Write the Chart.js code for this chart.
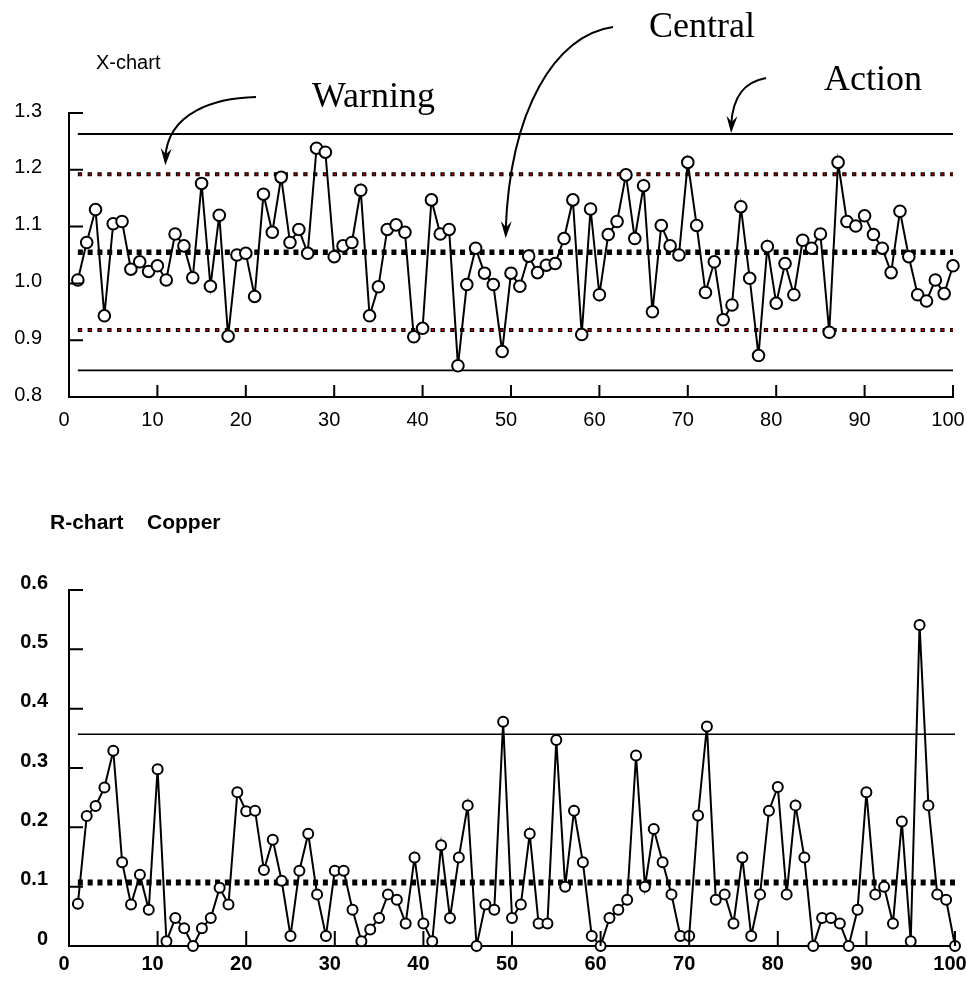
<!DOCTYPE html>
<html lang="en">
<head>
  <meta charset="UTF-8">
  <title>X-chart / R-chart Copper</title>
  <script src="https://cdn.jsdelivr.net/npm/chart.js"></script>
  <style>
    body { margin: 0; background: #fff; width: 967px; height: 981px; position: relative; overflow: hidden; }
    canvas { position: absolute; left: 0; }
    .lbl { position: absolute; white-space: nowrap; line-height: 1; color: #000; }
    .sans { font-family: "Liberation Sans", Arial, sans-serif; font-size: 20px; }
    .bold { font-weight: bold; font-size: 21px; }
    .note { font-family: "Liberation Serif", "Times New Roman", serif; font-size: 36px; }
  </style>
</head>
<body>
  <canvas id="xchart" width="967" height="450" style="top:0"></canvas>
  <canvas id="rchart" width="967" height="531" style="top:450px"></canvas>

  <div class="lbl sans" style="left:96px; top:52px;">X-chart</div>
  <div class="lbl note" style="left:312px; top:77px;">Warning</div>
  <div class="lbl note" style="left:649px; top:7px;">Central</div>
  <div class="lbl note" style="left:824px; top:60px;">Action</div>
  <div class="lbl sans bold" style="left:50px; top:511px;">R-chart</div>
  <div class="lbl sans bold" style="left:147px; top:511px;">Copper</div>

  <script>
    // sample numbers 1..100
    var samples = [];
    for (var i = 1; i <= 100; i++) samples.push(i);

    // X-chart (sample means)
    var xbarValues = [
      1.006, 1.072, 1.130, 0.943, 1.105, 1.109, 1.025, 1.038, 1.021, 1.031,
      1.006, 1.087, 1.066, 1.010, 1.176, 0.995, 1.120, 0.907, 1.050, 1.053,
      0.977, 1.157, 1.090, 1.187, 1.072, 1.095, 1.053, 1.238, 1.231, 1.047,
      1.066, 1.072, 1.164, 0.943, 0.994, 1.095, 1.103, 1.090, 0.906, 0.921,
      1.147, 1.087, 1.095, 0.855, 0.998, 1.062, 1.018, 0.998, 0.880, 1.018,
      0.995, 1.048, 1.019, 1.032, 1.035, 1.079, 1.147, 0.910, 1.131, 0.980,
      1.086, 1.109, 1.191, 1.079, 1.172, 0.950, 1.102, 1.066, 1.050, 1.213,
      1.102, 0.984, 1.038, 0.936, 0.962, 1.135, 1.009, 0.873, 1.065, 0.965,
      1.035, 0.980, 1.076, 1.062, 1.087, 0.914, 1.213, 1.109, 1.101, 1.119,
      1.086, 1.062, 1.019, 1.127, 1.047, 0.980, 0.969, 1.006, 0.982, 1.031
    ];
    var xCentral = 1.055;
    var xWarning = [0.918, 1.192];
    var xAction = [0.847, 1.263];
    var xTicksY = { min: 0.8, max: 1.3, step: 0.1 };

    // R-chart (ranges)
    var rangeValues = [
      0.071, 0.219, 0.236, 0.267, 0.329, 0.141, 0.070, 0.120, 0.061, 0.298,
      0.008, 0.047, 0.030, 0.000, 0.030, 0.047, 0.098, 0.070, 0.259, 0.227,
      0.228, 0.128, 0.179, 0.110, 0.017, 0.127, 0.189, 0.087, 0.017, 0.127,
      0.127, 0.061, 0.008, 0.028, 0.047, 0.087, 0.078, 0.038, 0.149, 0.038,
      0.008, 0.170, 0.047, 0.149, 0.237, 0.000, 0.070, 0.061, 0.378, 0.047,
      0.070, 0.189, 0.038, 0.038, 0.347, 0.100, 0.228, 0.141, 0.017, 0.000,
      0.047, 0.061, 0.078, 0.321, 0.100, 0.197, 0.141, 0.087, 0.017, 0.017,
      0.220, 0.370, 0.078, 0.087, 0.038, 0.149, 0.017, 0.087, 0.228, 0.268,
      0.087, 0.237, 0.149, 0.000, 0.047, 0.047, 0.038, 0.000, 0.061, 0.259,
      0.087, 0.100, 0.038, 0.210, 0.008, 0.541, 0.237, 0.087, 0.078, 0.000
    ];
    var rCentral = 0.107;
    var rAction = 0.357;
    var rTicksY = { min: 0, max: 0.6, step: 0.1 };

    var xTickLabels = { min: 0, max: 100, step: 10 };

    function points(values) {
      return values.map(function (v, i) { return { x: samples[i], y: v }; });
    }
    function hline(v) {
      return [{ x: samples[0], y: v }, { x: samples[samples.length - 1], y: v }];
    }
    function limitLine(v, width, dash, color, offset) {
      return {
        data: hline(v), borderColor: color || '#000', borderWidth: width,
        borderDash: dash || [], borderDashOffset: offset || 0,
        pointRadius: 0, borderCapStyle: 'butt', clip: false
      };
    }

    // ticks pointing into the plot
    var innerTicks = {
      id: 'innerTicks',
      afterDraw: function (chart, args, opts) {
        var ctx = chart.ctx, a = chart.chartArea;
        var sx = chart.scales.x, sy = chart.scales.y;
        ctx.save();
        ctx.strokeStyle = '#000';
        ctx.lineWidth = 2;
        ctx.beginPath();
        sy.ticks.forEach(function (t) {
          var py = sy.getPixelForValue(t.value);
          ctx.moveTo(a.left, py);
          ctx.lineTo(a.left + opts.ylen, py);
        });
        sx.ticks.forEach(function (t) {
          var px = sx.getPixelForValue(t.value);
          ctx.moveTo(px, a.bottom);
          ctx.lineTo(px, a.bottom - opts.xlen);
        });
        ctx.stroke();
        ctx.restore();
      }
    };

    // curved arrows pointing at the control lines
    function arrow(ctx, p0, c1, c2, tip) {
      ctx.beginPath();
      ctx.moveTo(p0[0], p0[1]);
      ctx.bezierCurveTo(c1[0], c1[1], c2[0], c2[1], tip[0], tip[1] - 8);
      ctx.stroke();
      var dx = tip[0] - c2[0], dy = tip[1] - c2[1];
      var len = Math.sqrt(dx * dx + dy * dy);
      dx /= len; dy /= len;
      var nx = -dy, ny = dx;
      var L = 17, w = 5.5, notch = 11;
      ctx.beginPath();
      ctx.moveTo(tip[0], tip[1]);
      ctx.lineTo(tip[0] - dx * L + nx * w, tip[1] - dy * L + ny * w);
      ctx.lineTo(tip[0] - dx * notch, tip[1] - dy * notch);
      ctx.lineTo(tip[0] - dx * L - nx * w, tip[1] - dy * L - ny * w);
      ctx.closePath();
      ctx.fill();
    }
    var arrows = {
      id: 'arrows',
      afterDraw: function (chart) {
        var ctx = chart.ctx, sx = chart.scales.x, sy = chart.scales.y;
        ctx.save();
        ctx.strokeStyle = '#000';
        ctx.fillStyle = '#000';
        ctx.lineWidth = 2;
        var wTip = [sx.getPixelForValue(10.9), sy.getPixelForValue(xWarning[1]) - 9];
        arrow(ctx, [256, 97], [215, 98], [168, 112], wTip);
        var cTip = [sx.getPixelForValue(49.4), sy.getPixelForValue(xCentral) - 14];
        arrow(ctx, [613, 27], [555, 35], [510, 110], cTip);
        var aTip = [sx.getPixelForValue(74.9), sy.getPixelForValue(xAction[1]) - 1];
        arrow(ctx, [766, 78], [745, 82], [733, 95], aTip);
        ctx.restore();
      }
    };

    function makeOptions(cfg) {
      return {
        responsive: false,
        animation: false,
        events: [],
        layout: { autoPadding: false, padding: { top: cfg.top, right: cfg.right, left: 0, bottom: 0 } },
        plugins: {
          legend: { display: false },
          tooltip: { enabled: false },
          innerTicks: { ylen: 14, xlen: cfg.xlen }
        },
        scales: {
          x: {
            type: 'linear', min: xTickLabels.min, max: xTickLabels.max,
            grid: { display: false, drawTicks: false },
            border: { display: true, color: '#000', width: 2 },
            afterFit: function (s) { s.height = cfg.xh; s.paddingLeft = 0; s.paddingRight = 0; },
            ticks: {
              stepSize: xTickLabels.step, color: '#000', padding: cfg.xpad, labelOffset: -5,
              maxRotation: 0, autoSkip: false,
              font: { family: '"Liberation Sans", Arial, sans-serif', size: 20, weight: cfg.weight }
            }
          },
          y: {
            min: cfg.y.min, max: cfg.y.max,
            grid: { display: false, drawTicks: false },
            border: { display: true, color: '#000', width: 2 },
            afterFit: function (s) { s.width = 69; s.paddingTop = 0; s.paddingBottom = 0; },
            ticks: {
              stepSize: cfg.y.step, color: '#000', padding: cfg.ypad, labelOffset: cfg.yoff,
              font: { family: '"Liberation Sans", Arial, sans-serif', size: 20, weight: cfg.weight },
              callback: cfg.fmt
            }
          }
        }
      };
    }

    new Chart(document.getElementById('xchart'), {
      type: 'line',
      data: {
        datasets: [
          {
            data: points(xbarValues), borderColor: '#000', borderWidth: 2,
            pointRadius: 5.8, pointBorderWidth: 2, pointBackgroundColor: '#fff',
            pointBorderColor: '#000', clip: false
          },
          limitLine(xAction[1], 1.8),
          limitLine(xAction[0], 1.8),
          limitLine(xWarning[1], 1.8, [2, 7.8], '#e00000', -1.15),
          limitLine(xWarning[0], 1.8, [2, 7.8], '#e00000', -1.15),
          limitLine(xWarning[1], 4, [4.3, 5.5]),
          limitLine(xWarning[0], 4, [4.3, 5.5]),
          limitLine(xCentral, 5.5, [5, 4.8])
        ]
      },
      options: makeOptions({
        top: 113, right: 14, xh: 53, xpad: 11, xlen: 12, ypad: 27, yoff: -2,
        weight: 'normal', y: xTicksY,
        fmt: function (v) { return v.toFixed(1); }
      }),
      plugins: [innerTicks, arrows]
    });

    new Chart(document.getElementById('rchart'), {
      type: 'line',
      data: {
        datasets: [
          {
            data: points(rangeValues), borderColor: '#000', borderWidth: 2,
            pointRadius: 5, pointBorderWidth: 2, pointBackgroundColor: '#fff',
            pointBorderColor: '#000', clip: false
          },
          limitLine(rAction, 1.5),
          limitLine(rCentral, 6, [5, 4.8])
        ]
      },
      options: makeOptions({
        top: 140, right: 12, xh: 35, xpad: 6, xlen: 15, ypad: 21, yoff: -7,
        weight: 'bold', y: rTicksY,
        fmt: function (v) { return v === 0 ? '0' : v.toFixed(1); }
      }),
      plugins: [innerTicks]
    });
  </script>
</body>
</html>
